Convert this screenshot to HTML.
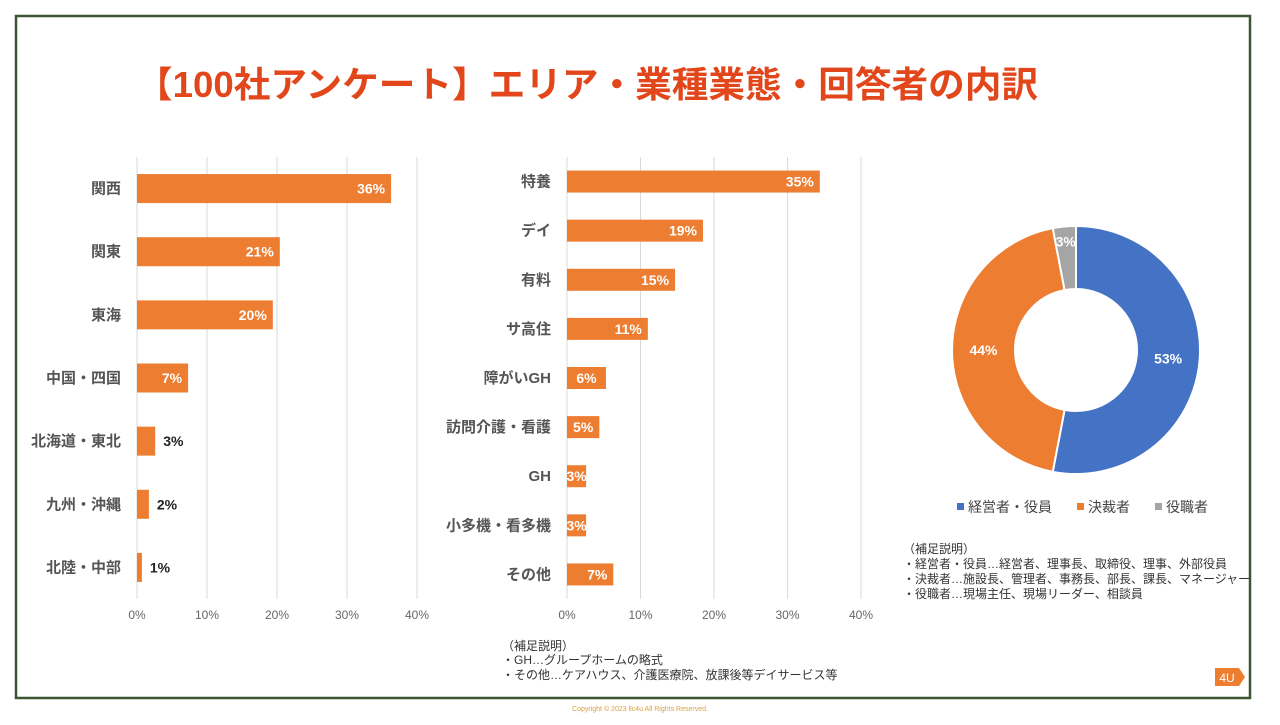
<!DOCTYPE html>
<html><head><meta charset="utf-8"><style>
body{margin:0;width:1280px;height:720px;background:#fff;overflow:hidden;font-family:"Liberation Sans","Noto Sans CJK JP",sans-serif}
svg text{font-family:"Liberation Sans","Noto Sans CJK JP",sans-serif}
</style></head><body>
<svg id="s" width="1280" height="720">
<rect x="16" y="16" width="1234" height="682" fill="none" stroke="#3d5530" stroke-width="2.5"/>
<text x="136" y="97" font-size="36" font-weight="bold" fill="#e2471c" textLength="902" lengthAdjust="spacingAndGlyphs">【100社アンケート】エリア・業種業態・回答者の内訳</text>
<g id="left"></g>
<g id="mid"></g>
<g id="pie"></g>
<g font-size="14" fill="#444">
<rect x="957" y="503" width="7" height="7" fill="#4472c4"/><text x="968" y="512">経営者・役員</text>
<rect x="1077" y="503" width="7" height="7" fill="#ed7d31"/><text x="1088" y="512">決裁者</text>
<rect x="1155" y="503" width="7" height="7" fill="#a5a5a5"/><text x="1166" y="512">役職者</text>
</g>
<g font-size="12" fill="#333">
<text x="903" y="553">（補足説明）</text>
<text x="903" y="568">・経営者・役員…経営者、理事長、取締役、理事、外部役員</text>
<text x="903" y="583">・決裁者…施設長、管理者、事務長、部長、課長、マネージャー</text>
<text x="903" y="598">・役職者…現場主任、現場リーダー、相談員</text>
</g>
<g font-size="12" fill="#333">
<text x="502" y="650">（補足説明）</text>
<text x="502" y="664">・GH…グループホームの略式</text>
<text x="502" y="679">・その他…ケアハウス、介護医療院、放課後等デイサービス等</text>
</g>
<g><polygon points="1215,668 1239,668 1245,677 1239,686 1215,686" fill="#ed7d31"/><text x="1227" y="682" font-size="12" fill="#fff" text-anchor="middle" font-family="Liberation Serif">4U</text></g>
<text x="640" y="711" font-size="7" fill="#d9a040" text-anchor="middle">Copyright © 2023 llc4u All Rights Reserved.</text>
</svg>
<script>
const areaCats=["関西","関東","東海","中国・四国","北海道・東北","九州・沖縄","北陸・中部"];
const areaVals=[36.3,20.4,19.4,7.3,2.6,1.7,0.7];
const areaLabels=["36%","21%","20%","7%","3%","2%","1%"];
const indCats=["特養","デイ","有料","サ高住","障がいGH","訪問介護・看護","GH","小多機・看多機","その他"];
const indVals=[34.4,18.5,14.7,11,5.3,4.4,2.6,2.6,6.3];
const indLabels=["35%","19%","15%","11%","6%","5%","3%","3%","7%"];
const pieCats=["経営者・役員","決裁者","役職者"];
const pieVals=[53,44,3];
const ticks=[0,10,20,30,40];
const NS="http://www.w3.org/2000/svg";
function el(p,t,a){const e=document.createElementNS(NS,t);for(const k in a)e.setAttribute(k,a[k]);p.appendChild(e);return e;}
function bars(g,cats,vals,labels,x0,x1,top,bot,bh,name,minIn){
  const sx=v=>x0+(x1-x0)*v/40;
  const step=(bot-top)/cats.length;
  ticks.forEach(t=>{const l=el(g,'line',{x1:sx(t),x2:sx(t),y1:top,y2:bot,stroke:'#d9d9d9'});
    
    
    const tx=el(g,'text',{x:sx(t),y:bot+20,'font-size':12,fill:'#666','text-anchor':'middle'});tx.textContent=t+'%';
    
    });
  cats.forEach((c,i)=>{const cy=top+step*(i+.5);
    const r=el(g,'rect',{x:x0,y:cy-bh/2,width:sx(vals[i])-x0,height:bh,fill:'#ed7d31'});
    
    
    const lb=el(g,'text',{x:x0-16,y:cy+5,'font-size':15,'font-weight':'bold',fill:'#555','text-anchor':'end'});lb.textContent=c;
    
    
    const w=sx(vals[i])-x0;const inside=w>=minIn;
    let vt;
    if(inside){
      if(w>40) vt=el(g,'text',{x:sx(vals[i])-6,y:cy+5,'font-size':14,'font-weight':'bold',fill:'#fff','text-anchor':'end'});
      else vt=el(g,'text',{x:x0+w/2,y:cy+5,'font-size':14,'font-weight':'bold',fill:'#fff','text-anchor':'middle'});
    } else vt=el(g,'text',{x:sx(vals[i])+8,y:cy+5,'font-size':14,'font-weight':'bold',fill:'#222','text-anchor':'start'});
    vt.textContent=labels[i];
    
    });
}
bars(document.getElementById('left'),areaCats,areaVals,areaLabels,137,417,157,599,29,'area',40);
bars(document.getElementById('mid'),indCats,indVals,indLabels,567,861,157,599,22,'industry',10);
const pg=document.getElementById('pie');const cx=1076,cy=350,R=124,r=61;
const cols=['#4472c4','#ed7d31','#a5a5a5'];const tot=pieVals.reduce((a,b)=>a+b,0);let a0=0;
pieVals.forEach((v,i)=>{const a1=a0+v/tot*2*Math.PI;
  const p=(a,rr)=>[cx+rr*Math.sin(a),cy-rr*Math.cos(a)];const lg=a1-a0>Math.PI?1:0;
  const [x1,y1]=p(a0,R),[x2,y2]=p(a1,R),[x3,y3]=p(a1,r),[x4,y4]=p(a0,r);
  const s=el(pg,'path',{d:`M${x1},${y1}A${R},${R} 0 ${lg} 1 ${x2},${y2}L${x3},${y3}A${r},${r} 0 ${lg} 0 ${x4},${y4}Z`,fill:cols[i],stroke:'#fff','stroke-width':2});
  
  
  const am=(a0+a1)/2;const small=v/tot<0.06;const [lx,ly]=p(am,small?R-15:(R+r)/2);
  const t=el(pg,'text',{x:lx,y:ly+5,'font-size':14,'font-weight':'bold',fill:small?'#fff':'#fff','text-anchor':'middle'});t.textContent=v+'%';
  
  
  a0=a1;});
</script>
</body></html>
